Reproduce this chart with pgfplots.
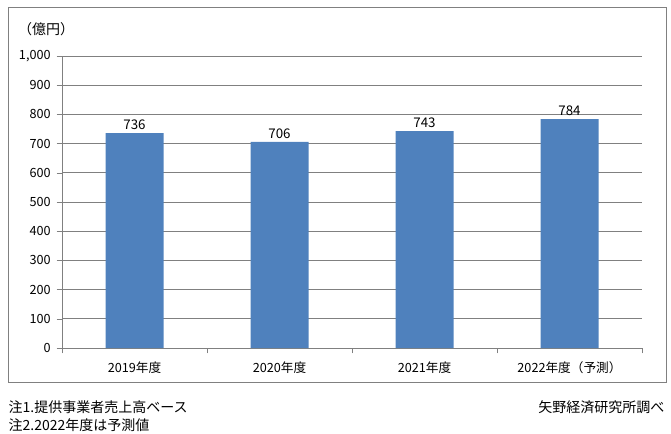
\documentclass[border=0pt]{standalone}
\usepackage{pgfplots}
\pgfplotsset{compat=1.18}
\usepackage{fontspec}
\setmainfont{Noto Sans CJK JP}
\begin{document}
\begin{tikzpicture}
\useasboundingbox (0pt,0pt) rectangle (503.25pt,324.75pt);
\draw[color=black!50, line width=0.75pt] (6pt,38.25pt) rectangle (499.5pt,318.75pt);
\begin{axis}[
  at={(46.5pt,63.75pt)}, anchor=south west,
  scale only axis, width=435pt, height=219pt,
  xmin=-0.5, xmax=3.5, ymin=0, ymax=1000,
  axis x line=bottom, axis y line=left,
  axis line style={black!50, -},
  xtick={0,1,2,3},
  xticklabels={2019年度,2020年度,2021年度,2022年度（予測）},
  minor xtick={-0.5,0.5,1.5,2.5,3.5},
  major x tick style={draw=none},
  minor tick length=4pt,
  major tick length=4pt,
  tick align=outside,
  tick style={black!50},
  ytick={0,100,...,1000},
  ymajorgrids, grid style={black!50, line width=0.5pt},
  /pgf/number format/assume math mode=true,
  /pgf/number format/1000 sep={,},
  ticklabel style={font=\fontsize{9.5}{10}\selectfont},
  yticklabel style={xshift=-1pt},
  xticklabel style={yshift=-3pt},
  ybar, bar width=0.4,
  nodes near coords,
  every node near coord/.append style={font=\fontsize{10}{11}\selectfont, yshift=-1pt},
  clip=false,
]
\addplot[fill={rgb,255:red,79;green,129;blue,189}, draw=none] coordinates {(0,736) (1,706) (2,743) (3,784)};
\end{axis}
\node[anchor=west, font=\fontsize{10.5}{11}\selectfont] at (10pt,303pt) {（億円）};
\node[anchor=west, font=\fontsize{10.5}{11}\selectfont] at (3pt,19.5pt) {注1.提供事業者売上高ベース};
\node[anchor=west, font=\fontsize{10.5}{11}\selectfont] at (3pt,6pt) {注2.2022年度は予測値};
\node[anchor=east, font=\fontsize{10.5}{11}\selectfont] at (501.75pt,19.5pt) {矢野経済研究所調べ};
\end{tikzpicture}
\end{document}
